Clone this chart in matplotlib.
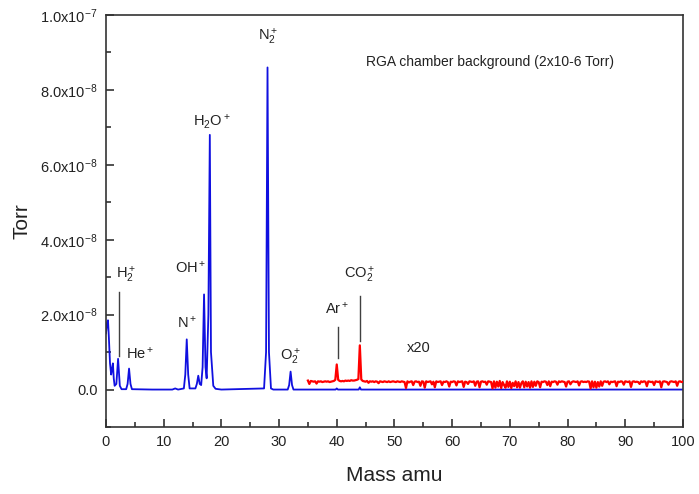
import numpy as np
import matplotlib
matplotlib.use("Agg")
import matplotlib.pyplot as plt
from matplotlib.ticker import MultipleLocator

plt.rcParams['font.family'] = ['Liberation Sans', 'DejaVu Sans']
plt.rcParams['mathtext.fontset'] = 'custom'
plt.rcParams['mathtext.rm'] = 'Liberation Sans'
plt.rcParams['mathtext.it'] = 'Liberation Sans'

# ---- data (pressure in units of 1e-9 Torr) ----
blue_mass = [0.0, 0.2, 0.35, 0.5, 0.7, 0.9, 1.05, 1.2, 1.35, 1.5, 1.8, 2.1, 2.4, 2.7,
             3.5, 3.75, 4.0, 4.25, 4.5, 8.0, 11.5, 12.0, 12.5, 13.5, 13.75, 14.0, 14.25, 14.5,
             15.5, 15.75, 16.0, 16.25, 16.5, 16.75, 17.0, 17.25, 17.45, 17.75, 18.0, 18.2,
             18.6, 19.0, 20.0, 27.4, 27.75, 28.0, 28.25, 28.6, 29.0, 31.5, 31.75, 32.0, 32.25,
             32.5, 35.0, 39.8, 40.0, 40.2, 43.8, 44.0, 44.2, 100.0]
blue_val = [15, 18, 18.5, 14, 7, 4, 5.5, 7, 3, 1.0, 1.5, 8.2, 1.0, 0.1,
            0.1, 1.5, 5.6, 1.5, 0.1, 0, 0, 0.3, 0, 0.3, 4, 13.4, 4, 0.3,
            0.3, 1.5, 3.7, 1.5, 1.2, 6, 25.4, 6, 3, 20, 68, 10,
            1, 0.2, 0, 0.3, 10, 86, 10, 0.3, 0, 0, 1.2, 4.8, 1.2,
            0, 0, 0, 0.3, 0, 0, 0.6, 0, 0]

red_start, red_stop, red_step = 35.0, 100.0, 0.25
red_val = [
    2.4, 1.5, 2.3, 2.2,  2.1, 2.2, 1.6, 2.2,  2.1, 2.2, 2.0, 2.1,  2.2, 2.1, 2.2, 2.0,
    2.1, 2.2, 2.3, 2.6,  6.7, 2.6, 2.3, 2.2,  2.3, 2.2, 2.4, 2.3,  2.4, 2.3, 2.5, 2.4,
    2.4, 2.5, 2.6, 2.8,  11.8, 2.7, 2.3, 2.2, 2.1, 2.3, 1.8, 2.2,  2.1, 2.2, 2.0, 2.2,
    2.1, 1.7, 2.2, 2.1,  2.0, 2.2, 2.1, 2.0,  2.2, 2.0, 2.1, 2.2,  2.1, 2.0, 2.2, 2.1,
    2.0, 2.2, 2.1, 2.0,  0.4, 2.2, 1.9, 2.1,  2.2, 1.2, 2.1, 2.2,  2.0, 2.1, 1.0, 2.2,
    2.1, 0.5, 2.2, 2.0,  2.1, 2.2, 1.4, 2.1,  0.6, 2.2, 2.0, 2.1,  2.2, 1.2, 2.1, 2.0,
    2.2, 2.0, 0.8, 2.1,  2.0, 2.2, 2.1, 1.1,  2.2, 2.0, 2.1, 2.2,  0.7, 2.1, 2.0, 1.5,
    2.2, 2.1, 2.0, 2.2,  1.0, 2.1, 2.2, 0.6,  2.1, 2.2, 2.0, 2.1,  1.3, 2.2, 2.1, 2.0,
    0.3, 2.2, 0.5, 2.1,  0.8, 2.3, 0.4, 2.0,  1.2, 0.5, 2.2, 0.7,  2.1, 0.4, 1.8, 0.9,
    2.2, 0.6, 2.0, 0.5,  1.7, 2.2, 0.6, 2.1,  0.8, 2.0, 0.5, 2.2,  0.7, 2.1, 1.0, 2.2,
    2.0, 0.6, 2.1, 2.0,  2.2, 2.1, 1.2, 2.2,  0.9, 2.1, 2.0, 2.2,  2.1, 1.3, 2.2, 2.0,
    2.2, 2.1, 2.0, 0.8,  2.1, 2.2, 1.4, 2.0,  2.2, 2.1, 2.0, 2.2,  1.1, 2.1, 2.2, 2.0,
    2.1, 2.0, 2.2, 2.1,  0.3, 2.2, 0.6, 2.1,  0.5, 2.0, 0.8, 2.2,  1.0, 2.1, 2.2, 2.0,
    2.2, 1.4, 2.1, 2.0,  2.1, 2.2, 0.9, 2.1,  2.0, 2.2, 2.1, 1.3,  2.2, 2.1, 2.0, 2.2,
    0.7, 2.1, 2.2, 2.0,  2.1, 2.0, 1.5, 2.2,  2.0, 2.2, 2.1, 0.9,  2.2, 2.1, 2.0, 2.1,
    1.2, 2.2, 2.1, 2.0,  2.2, 0.6, 2.1, 2.2,  2.1, 2.0, 1.3, 2.1,  2.2, 2.1, 2.0, 2.2,
    1.0, 2.1, 2.2, 2.0,  2.1]

# annotation marker lines: mass, y_low, y_high (1e-9 Torr)
mark_mass = [2.3, 40.2, 44.0]
mark_low = [9.0, 8.3, 13.0]
mark_high = [26.0, 16.8, 25.0]

# peak labels: text, mass, y (1e-9 Torr, centre)
label_text = ['H$_2^+$', 'He$^+$', 'N$^+$', 'OH$^+$', 'H$_2$O$^+$', 'N$_2^+$', 'O$_2^+$',
              'Ar$^+$', 'CO$_2^+$', 'x20']
label_x = [3.4, 5.9, 14.0, 14.6, 18.4, 28.1, 32.0, 40.0, 44.0, 54.2]
label_y = [30.5, 9.6, 18.0, 32.5, 71.5, 94.0, 8.8, 21.5, 30.5, 11.0]

yticks = [0, 20, 40, 60, 80, 100]
ytick_labels = ['0.0', '2.0x10$^{-8}$', '4.0x10$^{-8}$', '6.0x10$^{-8}$', '8.0x10$^{-8}$',
                '1.0x10$^{-7}$']

# ---- plot ----
fig = plt.figure(figsize=(6.99, 4.94), dpi=100)
ax = fig.add_axes([0.1516, 0.1356, 0.977 - 0.1516, 0.9696 - 0.1356])

scale = 1e-9
red_mass = np.arange(len(red_val)) * red_step + red_start
ax.plot(blue_mass, np.array(blue_val) * scale, color='#1010e0', lw=1.3, zorder=2)
ax.plot(red_mass, np.array(red_val) * scale, color='#ff0000', lw=1.6, zorder=3)

for m, lo, hi in zip(mark_mass, mark_low, mark_high):
    ax.plot([m, m], [lo * scale, hi * scale], color='#404040', lw=1.0)

for t, x, y in zip(label_text, label_x, label_y):
    ax.text(x, y * scale, t, ha='center', va='center', fontsize=10.5, color='#222222')

ax.text(66.5, 87.4 * scale, 'RGA chamber background (2x10-6 Torr)', ha='center',
        va='center', fontsize=10, color='#222222')

ax.set_xlim(0, 100)
ax.set_ylim(-10e-9, 100e-9)
ax.xaxis.set_major_locator(MultipleLocator(10))
ax.xaxis.set_minor_locator(MultipleLocator(5))
ax.set_yticks([v * scale for v in yticks])
ax.set_yticklabels(ytick_labels)
ax.yaxis.set_minor_locator(MultipleLocator(10e-9))
ax.tick_params(which='both', direction='in', top=False, right=False, labelsize=10.5,
               colors='#222222', width=1.1)
ax.tick_params(which='major', length=6, pad=6)
ax.tick_params(which='minor', length=3.5)
for s in ax.spines.values():
    s.set_linewidth(1.2)
    s.set_color('#333333')

ax.set_xlabel('Mass amu', fontsize=15, labelpad=12, color='#222222')
ax.set_ylabel('Torr', fontsize=15, labelpad=6, color='#222222')

fig.savefig('out.png', dpi=100)
